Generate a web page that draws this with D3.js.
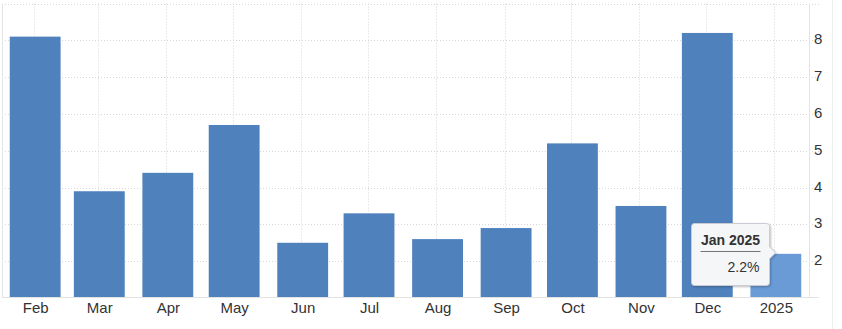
<!DOCTYPE html>
<html>
<meta charset="utf-8">
<script src="https://d3js.org/d3.v7.min.js"></script>
<style>
body{
  margin: 0;
  background: white;
}
.grid line{
  stroke: #d6d6d6;
  stroke-width: 1;
  stroke-dasharray: 1,2;
}
.frame{
  stroke: #e3e3e3;
  stroke-width: 1;
}
.axis text{
  font: 15px "Liberation Sans", Arial, sans-serif;
  fill: #333;
}
.tip text{
  font-family: "Liberation Sans", Arial, sans-serif;
  font-size: 14px;
  fill: #333;
}
</style>
<body>
<div id="chartDiv"></div>
<script>
// monthly values, Feb 2024 .. Jan 2025
var months = ["2024-02","2024-03","2024-04","2024-05","2024-06","2024-07","2024-08","2024-09","2024-10","2024-11","2024-12","2025-01"];
var monthLabels = ["Feb","Mar","Apr","May","Jun","Jul","Aug","Sep","Oct","Nov","Dec","2025"];
var values = [8.1, 3.9, 4.4, 5.7, 2.5, 3.3, 2.6, 2.9, 5.2, 3.5, 8.2, 2.2];
var yTicks = [2, 3, 4, 5, 6, 7, 8];
var gridTicks = [2, 3, 4, 5, 6, 7, 8, 9];

var barCol = "#4f81bd",
    hoverCol = "#6a9bd7";

var width = 842, height = 329;
var parseMonth = d3.timeParse("%Y-%m");
var dates = months.map(parseMonth);

var data = dates.map(function(d, i){ return {date: d, value: values[i], label: monthLabels[i]}; });

var svg = d3.select("#chartDiv").append("svg").attr("width", width).attr("height", height);

var plotLeft = 2, plotRight = 809, plotTop = 3.5, plotBottom = 298;

var x = d3.scaleTime()
  .domain([d3.timeDay.offset(dates[0], -15), d3.timeDay.offset(dates[dates.length-1], 15)])
  .range([plotLeft, plotRight]);

var y = d3.scaleLinear()
  .domain([1, 9])
  .range([plotBottom, plotTop]);

// gridlines
var grid = svg.append("g").attr("class", "grid");
grid.selectAll(".hgrid").data(gridTicks).enter()
  .append("line")
  .attr("class", "hgrid")
  .attr("x1", plotLeft).attr("x2", 819)
  .attr("y1", function(d){ return Math.round(y(d)) + 0.5; })
  .attr("y2", function(d){ return Math.round(y(d)) + 0.5; });

grid.selectAll(".vgrid").data(dates).enter()
  .append("line")
  .attr("class", "vgrid")
  .attr("x1", function(d){ return Math.round(x(d) - 1.5) + 0.5; })
  .attr("x2", function(d){ return Math.round(x(d) - 1.5) + 0.5; })
  .attr("y1", plotTop).attr("y2", plotBottom);

// bars
var barW = x(d3.timeDay.offset(dates[0], 23)) - x(dates[0]);
svg.selectAll(".bar").data(data).enter()
  .append("rect")
  .attr("class", "bar")
  .attr("x", function(d){ return x(d.date) - barW / 2; })
  .attr("width", barW)
  .attr("y", function(d){ return y(d.value); })
  .attr("height", function(d){ return plotBottom - y(d.value); })
  .style("fill", function(d, i){ return i == data.length - 1 ? hoverCol : barCol; });

// frame lines
svg.append("line").attr("class", "frame")
  .attr("x1", 2.5).attr("x2", 2.5).attr("y1", plotTop).attr("y2", plotBottom);
svg.append("line").attr("class", "frame")
  .attr("x1", 809.5).attr("x2", 809.5).attr("y1", plotTop).attr("y2", plotBottom);
svg.append("line").attr("class", "frame")
  .attr("x1", plotLeft).attr("x2", 819).attr("y1", 297.5).attr("y2", 297.5);
svg.append("line")
  .attr("x1", 832.5).attr("x2", 832.5).attr("y1", 0).attr("y2", height)
  .style("stroke", "#eeeeee");

// axes
var xAxis = d3.axisBottom(x)
  .tickValues(dates)
  .tickSize(0)
  .tickPadding(4)
  .tickFormat(function(d, i){ return monthLabels[i]; });

svg.append("g").attr("class", "axis")
  .attr("transform", "translate(0," + plotBottom + ")")
  .call(xAxis)
  .call(function(g){ g.select(".domain").remove(); });

var yAxis = d3.axisRight(y)
  .tickValues(yTicks)
  .tickSize(0)
  .tickPadding(5)
  .tickFormat(d3.format("d"));

svg.append("g").attr("class", "axis")
  .attr("transform", "translate(" + plotRight + ",0)")
  .call(yAxis)
  .call(function(g){ g.select(".domain").remove(); })
  .selectAll("text").attr("dy", "0.3em").attr("y", -1);

// tooltip for last point
var last = data[data.length - 1];
var defs = svg.append("defs");
var shadow = defs.append("filter").attr("id", "tipShadow")
  .attr("x", "-20%").attr("y", "-20%").attr("width", "150%").attr("height", "150%");
shadow.append("feDropShadow")
  .attr("dx", 1).attr("dy", 1).attr("stdDeviation", 1.2)
  .attr("flood-color", "#000").attr("flood-opacity", 0.25);

var tipR = Math.round(x(last.date) - 7) + 0.5,
    tipL = tipR - 78,
    tipT = 223.5, tipB = 285.5,
    tipY = y(last.value) - 1;
var r = 3;
var tipPath = "M" + (tipL + r) + "," + tipT +
  "H" + (tipR - r) + "Q" + tipR + "," + tipT + " " + tipR + "," + (tipT + r) +
  "V" + (tipY - 6) + "L" + (tipR + 6) + "," + tipY + "L" + tipR + "," + (tipY + 6) +
  "V" + (tipB - r) + "Q" + tipR + "," + tipB + " " + (tipR - r) + "," + tipB +
  "H" + (tipL + r) + "Q" + tipL + "," + tipB + " " + tipL + "," + (tipB - r) +
  "V" + (tipT + r) + "Q" + tipL + "," + tipT + " " + (tipL + r) + "," + tipT + "Z";

var tip = svg.append("g").attr("class", "tip");
tip.append("path")
  .attr("d", tipPath)
  .style("fill", "#f5f6f8")
  .style("stroke", "#c9ccd2")
  .style("stroke-width", 1)
  .attr("filter", "url(#tipShadow)");

var tipCx = (tipL + tipR) / 2;
tip.append("text")
  .attr("x", tipCx).attr("y", 245)
  .attr("text-anchor", "middle")
  .style("font-weight", "bold")
  .text(d3.timeFormat("%b %Y")(last.date));
tip.append("line")
  .attr("x1", tipL + 9).attr("x2", tipR - 9)
  .attr("y1", 251.5).attr("y2", 251.5)
  .style("stroke", "#777").style("stroke-width", 1);
tip.append("text")
  .attr("x", tipR - 10).attr("y", 272)
  .attr("text-anchor", "end")
  .text(d3.format(".1f")(last.value) + "%");
</script>
</body>
</html>
